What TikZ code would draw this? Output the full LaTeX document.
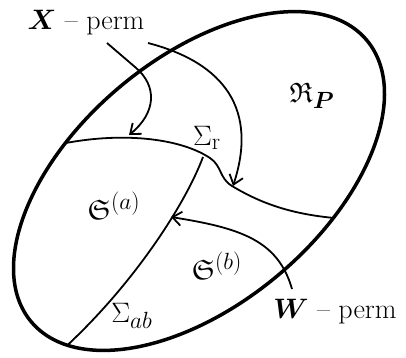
\documentclass[tikz,border=0pt]{standalone}
\usepackage{amsmath,amssymb}
\usetikzlibrary{arrows.meta}
\tikzset{
  lbl/.style={font=\Huge, inner sep=0pt, scale=1.13, transform shape},
  rim/.style={line width=3.5pt},
  curve/.style={line width=1.8pt},
  arr/.style={line width=1.8pt, -{Straight Barb[length=9pt,width=14pt,line width=1.8pt]}}
}
\begin{document}
\begin{tikzpicture}[x=1pt,y=-1pt]
\useasboundingbox (0,0) rectangle (406,357);
\coordinate (c) at (199,181);
% inner separatrices, clipped to the region
\begin{scope}
  \clip[rotate around={40:(c)}] (c) ellipse [x radius=219pt, y radius=123pt];
  \draw[curve] (56,145) .. controls (120,131) and (180,138) .. (210,158)
                        .. controls (222,166) and (219,178) .. (232,186)
                        .. controls (262,204) and (295,216) .. (348,219);
  \draw[curve] (60,352) .. controls (132,287) and (185,205) .. (203,157);
\end{scope}
% outer boundary
\draw[rim, rotate around={40:(c)}] (c) ellipse [x radius=219pt, y radius=123pt];
% arrows
\draw[arr] (107,43) -- (135,67) .. controls (158,86) and (156,113) .. (129,135);
\draw[arr] (148,43) .. controls (225,63) and (258,110) .. (233,186);
\draw[arr] (292,289) .. controls (278,240) and (240,228) .. (171,217);
% labels
\node[lbl] (xperm) at (86,23) {$\boldsymbol{X}$ -- perm};
\node[lbl] (wperm) at (335,312) {$\boldsymbol{W}$ -- perm};
\node[lbl] (rp) at (312,96) {$\mathfrak{R}_{\boldsymbol{P}}$};
\node[lbl] (sr) at (207,138) {$\Sigma_{\mathrm{r}}$};
\node[lbl] (sa) at (114,206) {$\mathfrak{S}^{(a)}$};
\node[lbl] (sb) at (217,266) {$\mathfrak{S}^{(b)}$};
\node[lbl] (sab) at (132,316) {$\Sigma_{ab}$};
\end{tikzpicture}
\end{document}
